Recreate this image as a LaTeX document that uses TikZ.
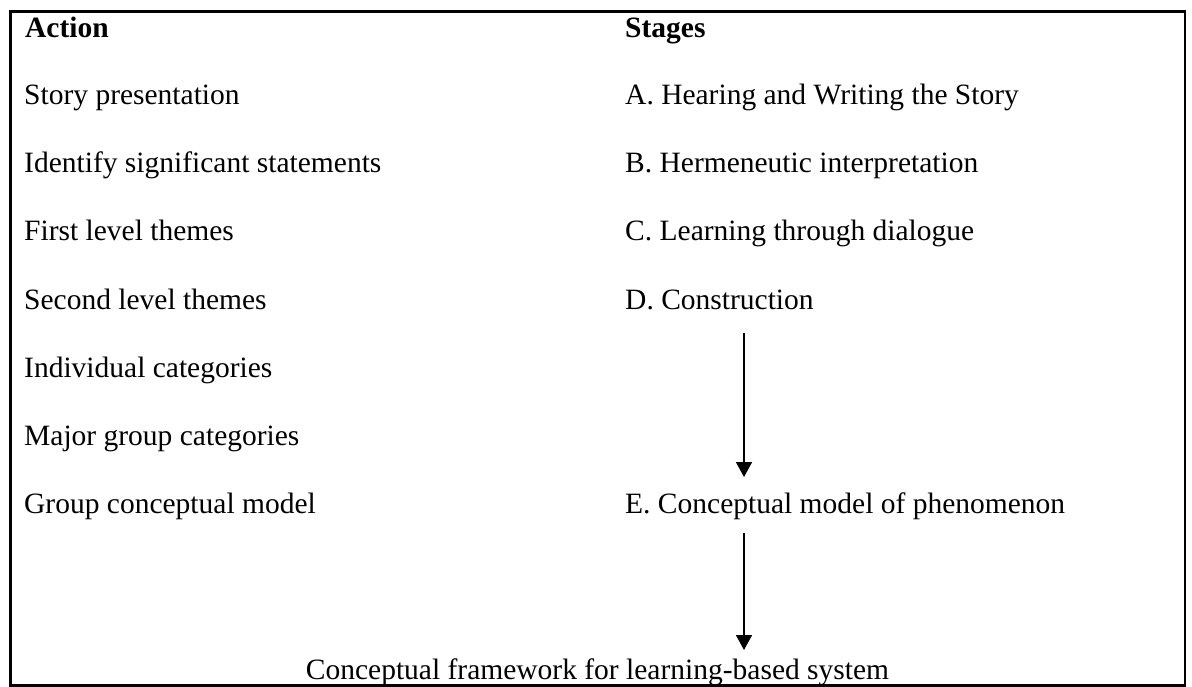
\documentclass[tikz,border=0pt]{standalone}
\usepackage{fontspec}
\setmainfont{Liberation Serif}
\usetikzlibrary{arrows.meta}
\begin{document}
\begin{tikzpicture}[x=1pt,y=-1pt,
  txt/.style={anchor=base west,inner sep=0pt,font=\fontsize{29.5}{34}\selectfont},
  hdr/.style={txt,font=\fontsize{29.5}{34}\selectfont\bfseries},
  ctxt/.style={anchor=base,inner sep=0pt,font=\fontsize{29.5}{34}\selectfont},
  arr/.style={line width=1.6pt,-{Triangle[width=16pt,length=15pt]}},
  frame/.style={line width=2.8pt}]
\useasboundingbox (0,0) rectangle (1192,687);
\draw[frame] (10.5,11.5) rectangle (1185,685.5);
% headers
\node[hdr] (hA) at (25,38) {Action};
\node[hdr] (hS) at (625,38) {Stages};
% left column
\node[txt] (l1) at (24,105) {Story presentation};
\node[txt] (l2) at (24,173) {Identify significant statements};
\node[txt] (l3) at (24,241) {First level themes};
\node[txt] (l4) at (24,309) {Second level themes};
\node[txt] (l5) at (24,377) {Individual categories};
\node[txt] (l6) at (24,445) {Major group categories};
\node[txt] (l7) at (24,513) {Group conceptual model};
% right column
\node[txt] (rA) at (625,105) {A. Hearing and Writing the Story};
\node[txt] (rB) at (625,173) {B. Hermeneutic interpretation};
\node[txt] (rC) at (625,241) {C. Learning through dialogue};
\node[txt] (rD) at (625,309) {D. Construction};
\node[txt] (rE) at (625,513) {E. Conceptual model of phenomenon};
% bottom
\node[ctxt] (fw) at (597.5,679) {Conceptual framework for learning-based system};
% arrows
\coordinate (a1s) at (744,333);
\coordinate (a1e) at (744,477);
\coordinate (a2s) at (744,533);
\coordinate (a2e) at (744,650);
\draw[arr] (a1s) -- (a1e);
\draw[arr] (a2s) -- (a2e);
\end{tikzpicture}
\end{document}
